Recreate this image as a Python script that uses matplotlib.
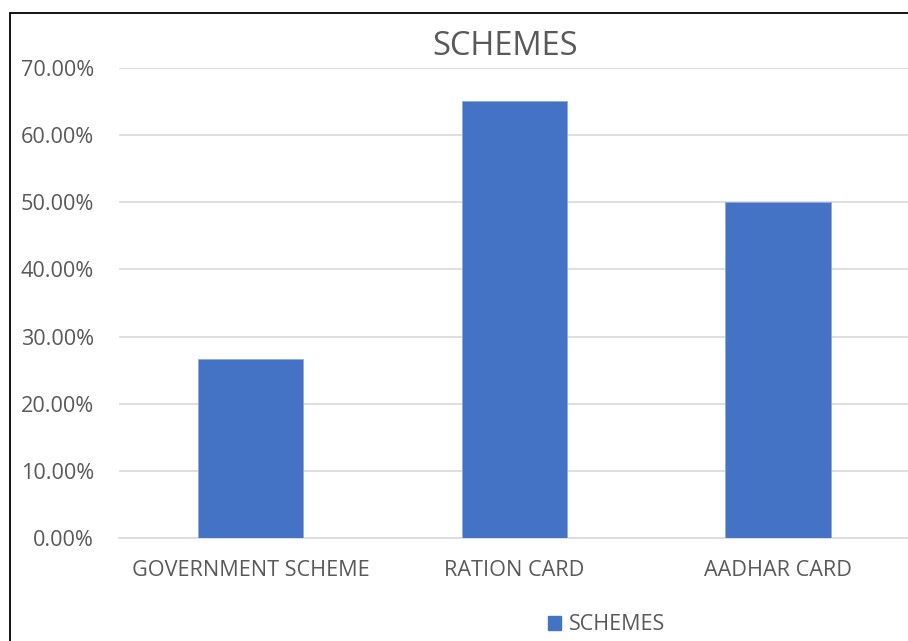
import matplotlib
matplotlib.use("Agg")
import matplotlib.pyplot as plt
from matplotlib.patches import Rectangle, Patch
from matplotlib.ticker import PercentFormatter

plt.rcParams['font.family'] = ['Open Sans', 'DejaVu Sans']

# data
categories = ["GOVERNMENT SCHEME", "RATION CARD", "AADHAR CARD"]
values = [26.6, 65.0, 50.0]
series_name = "SCHEMES"
yticks = [0, 10, 20, 30, 40, 50, 60, 70]

fig = plt.figure(figsize=(9.08, 6.41), dpi=100)
ax = fig.add_axes([0.131, 0.1607, 0.871, 0.7334])

ax.bar(range(len(categories)), values, width=0.4, color="#4472C4", zorder=3,
       edgecolor="#8FAADC", linewidth=0.6)
ax.set_xlim(-0.5, len(categories) - 0.5)
ax.set_ylim(0, 70)
ax.set_yticks(yticks)
ax.yaxis.set_major_formatter(PercentFormatter(decimals=2))
ax.set_xticks(range(len(categories)))
ax.set_xticklabels(categories)
ax.grid(axis="y", color="#D9D9D9", linewidth=1.2, zorder=0)
for s in ["top", "right", "left"]:
    ax.spines[s].set_visible(False)
ax.spines["bottom"].set_color("#D9D9D9")
ax.spines["bottom"].set_linewidth(1.2)
ax.tick_params(axis="both", length=0, labelsize=15.6, colors="#595959")
ax.tick_params(axis="y", pad=18)
ax.tick_params(axis="x", pad=16)

fig.text(0.556, 0.927, "SCHEMES", ha="center", va="center", fontsize=23.5, color="#595959")

leg = fig.legend(handles=[Patch(color="#4472C4", label=series_name)], loc="center",
                 bbox_to_anchor=(0.668, 0.025), frameon=False, fontsize=15.5,
                 handlelength=0.6, handleheight=0.6, handletextpad=0.35)
for t in leg.get_texts():
    t.set_color("#595959")

# outer chart frame (cut off at the right and bottom)
fig.patches.append(Rectangle((0.011, -0.05), 1.1, 0.05 + 0.9797, transform=fig.transFigure,
                             fill=False, edgecolor="black", linewidth=1.3))

fig.savefig("out.png", dpi=100, facecolor="white")
